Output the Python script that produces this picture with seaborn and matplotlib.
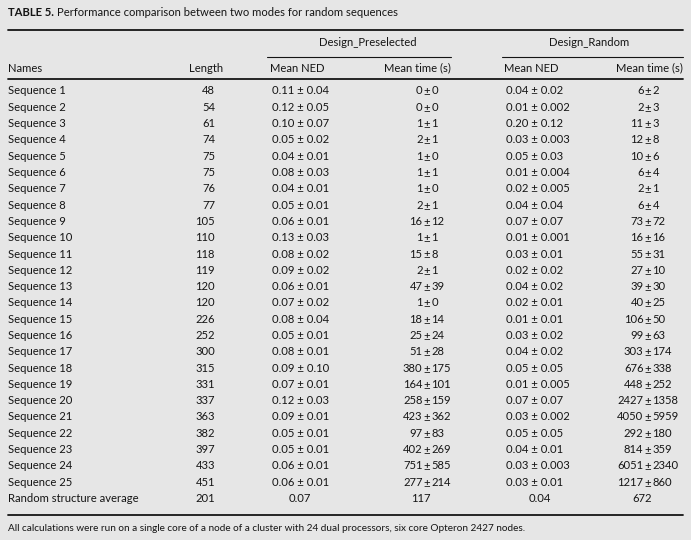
import matplotlib
matplotlib.use("Agg")
import matplotlib.pyplot as plt
import seaborn as sns

# --- Datos de la tabla ---
names = [f"Sequence {i}" for i in range(1, 26)] + ["Random structure average"]
lengths = [48, 54, 61, 74, 75, 75, 76, 77, 105, 110, 118, 119, 120, 120, 226,
           252, 300, 315, 331, 337, 363, 382, 397, 433, 451, 201]

pre_ned_mean = ["0.11", "0.12", "0.10", "0.05", "0.04", "0.08", "0.04", "0.05", "0.06",
                "0.13", "0.08", "0.09", "0.06", "0.07", "0.08", "0.05", "0.08", "0.09",
                "0.07", "0.12", "0.09", "0.05", "0.05", "0.06", "0.06", "0.07"]
pre_ned_sd = ["0.04", "0.05", "0.07", "0.02", "0.01", "0.03", "0.01", "0.01", "0.01",
              "0.03", "0.02", "0.02", "0.01", "0.02", "0.04", "0.01", "0.01", "0.10",
              "0.01", "0.03", "0.01", "0.01", "0.01", "0.01", "0.01", None]
pre_time_mean = ["0", "0", "1", "2", "1", "1", "1", "2", "16", "1", "15", "2", "47", "1",
                 "18", "25", "51", "380", "164", "258", "423", "97", "402", "751", "277", "117"]
pre_time_sd = ["0", "0", "1", "1", "0", "1", "0", "1", "12", "1", "8", "1", "39", "0",
               "14", "24", "28", "175", "101", "159", "362", "83", "269", "585", "214", None]

rnd_ned_mean = ["0.04", "0.01", "0.20", "0.03", "0.05", "0.01", "0.02", "0.04", "0.07",
                "0.01", "0.03", "0.02", "0.04", "0.02", "0.01", "0.03", "0.04", "0.05",
                "0.01", "0.07", "0.03", "0.05", "0.04", "0.03", "0.03", "0.04"]
rnd_ned_sd = ["0.02", "0.002", "0.12", "0.003", "0.03", "0.004", "0.005", "0.04", "0.07",
              "0.001", "0.01", "0.02", "0.02", "0.01", "0.01", "0.02", "0.02", "0.05",
              "0.005", "0.07", "0.002", "0.05", "0.01", "0.003", "0.01", None]
rnd_time_mean = ["6", "2", "11", "12", "10", "6", "2", "6", "73", "16", "55", "27", "39",
                 "40", "106", "99", "303", "676", "448", "2427", "4050", "292", "814",
                 "6051", "1217", "672"]
rnd_time_sd = ["2", "3", "3", "8", "6", "4", "1", "4", "72", "16", "31", "10", "30", "25",
               "50", "63", "174", "338", "252", "1358", "5959", "180", "359", "2340",
               "860", None]

title_bold = "TABLE 5."
title_text = "Performance comparison between two modes for random sequences"
footer = ("All calculations were run on a single core of a node of a cluster with 24 dual "
          "processors, six core Opteron 2427 nodes.")

# --- Estilo ---
sns.set_theme(style="white")
plt.rcParams["font.family"] = ["Lato", "DejaVu Sans"]
BG = "#e6e6e6"
TXT = "#151515"
FS = 8.1

fig = plt.figure(figsize=(6.91, 5.40), dpi=100, facecolor=BG)
ax = fig.add_axes([0, 0, 1, 1])
ax.set_facecolor(BG)
ax.set_xlim(0, 691)
ax.set_ylim(540, 0)
ax.axis("off")

# Título
t = ax.text(8, 12, title_bold + " ", fontsize=FS, fontweight="bold", color=TXT, va="center")
fig.canvas.draw()
bb = t.get_window_extent().transformed(ax.transData.inverted())
ax.text(bb.x1, 12, title_text, fontsize=FS, color=TXT, va="center")

# Líneas horizontales
ax.plot([8, 683], [30, 30], color=TXT, lw=1.3)
ax.plot([267, 451], [57, 57], color=TXT, lw=0.8)
ax.plot([502, 683], [57, 57], color=TXT, lw=0.8)
ax.plot([8, 683], [79, 79], color=TXT, lw=1.3)

# Encabezados
ax.text(368, 43, "Design_Preselected", fontsize=FS, color=TXT, ha="center", va="center")
ax.text(589, 43, "Design_Random", fontsize=FS, color=TXT, ha="center", va="center")
ax.text(8, 68, "Names", fontsize=FS, color=TXT, va="center")
ax.text(223, 68, "Length", fontsize=FS, color=TXT, ha="right", va="center")
ax.text(270, 68, "Mean NED", fontsize=FS, color=TXT, va="center")
ax.text(451, 68, "Mean time (s)", fontsize=FS, color=TXT, ha="right", va="center")
ax.text(504, 68, "Mean NED", fontsize=FS, color=TXT, va="center")
ax.text(683, 68, "Mean time (s)", fontsize=FS, color=TXT, ha="right", va="center")


def pm_left(x, y, m, s, center):
    # Valores NED alineados a la izquierda; promedio centrado
    if s is None:
        ax.text(center, y, m, fontsize=FS, color=TXT, ha="center", va="center")
    else:
        ax.text(x, y, f"{m} ± {s}", fontsize=FS, color=TXT, va="center")


def pm_aligned(xpm, y, m, s, center):
    # Tiempos alineados en el signo ±
    if s is None:
        ax.text(center, y, m, fontsize=FS, color=TXT, ha="center", va="center")
    else:
        ax.text(xpm - 4.5, y, m, fontsize=FS, color=TXT, ha="right", va="center")
        ax.text(xpm, y, "±", fontsize=FS, color=TXT, ha="center", va="center")
        ax.text(xpm + 4.5, y, s, fontsize=FS, color=TXT, ha="left", va="center")


y0, dy = 91, 16.3
for i, nm in enumerate(names):
    y = y0 + i * dy
    ax.text(8, y, nm, fontsize=FS, color=TXT, va="center")
    ax.text(215, y, str(lengths[i]), fontsize=FS, color=TXT, ha="right", va="center")
    pm_left(272, y, pre_ned_mean[i], pre_ned_sd[i], 300)
    pm_aligned(427, y, pre_time_mean[i], pre_time_sd[i], 421)
    pm_left(506, y, rnd_ned_mean[i], rnd_ned_sd[i], 540)
    pm_aligned(648, y, rnd_time_mean[i], rnd_time_sd[i], 642)

y_last = y0 + (len(names) - 1) * dy
ax.plot([8, 683], [y_last + 16, y_last + 16], color=TXT, lw=1.3)
ax.text(8, y_last + 30, footer, fontsize=7.2, color=TXT, va="center")

fig.savefig("out.png", dpi=100, facecolor=BG)
